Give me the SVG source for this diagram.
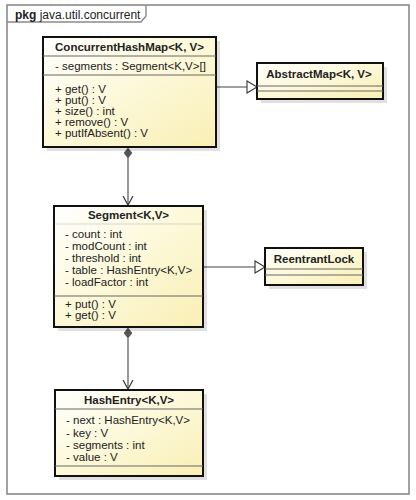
<svg xmlns="http://www.w3.org/2000/svg" width="416" height="500" viewBox="0 0 416 500">
<defs>
<linearGradient id="fill" x1="0" y1="0" x2="1" y2="1">
<stop offset="0" stop-color="#ffffff"/>
<stop offset="0.45" stop-color="#fdf9dc"/>
<stop offset="1" stop-color="#f9efb4"/>
</linearGradient>
<marker id="open" markerWidth="12" markerHeight="12" refX="10" refY="6" orient="auto" markerUnits="userSpaceOnUse">
<path d="M1,1 L10,6 L1,11" fill="none" stroke="#333" stroke-width="1.2"/>
</marker>
<marker id="gen" markerWidth="14" markerHeight="14" refX="11" refY="7" orient="auto" markerUnits="userSpaceOnUse">
<path d="M1,1 L11,7 L1,13 Z" fill="#fff" stroke="#333" stroke-width="1.1"/>
</marker>
</defs>
<style>
text{font-family:"Liberation Sans","DejaVu Sans",Arial,sans-serif;font-size:11.5px;fill:#222}
.t{font-weight:bold;font-size:11.5px;text-anchor:middle}
.box{fill:url(#fill);stroke:#111;stroke-width:2}
.sh{fill:#000;opacity:0.12}
.div{stroke:#666;stroke-width:1}
.conn{fill:none;stroke:#444;stroke-width:1.1}
.dia{fill:#555;stroke:#444;stroke-width:0.6}
</style>
<rect width="416" height="500" fill="#fff"/>
<g id="package">
<rect x="7" y="5" width="402" height="489" fill="none" stroke="#8a8a8a" stroke-width="1.6"/>
<path d="M7,22 L141,22 L146,16 L146,5" fill="none" stroke="#8a8a8a" stroke-width="1.4"/>
<text x="15" y="18.5" style="font-size:12px"><tspan font-weight="bold">pkg</tspan> java.util.concurrent</text>
</g>
<g id="connectors">
<line class="conn" x1="216" y1="87" x2="257" y2="87" marker-end="url(#gen)"/>
<line class="conn" x1="203" y1="267" x2="265" y2="267" marker-end="url(#gen)"/>
<line class="conn" x1="128" y1="158" x2="128" y2="205" marker-end="url(#open)"/>
<polygon class="dia" points="128,148 132,153 128,158 124,153"/>
<line class="conn" x1="128" y1="338" x2="128" y2="389" marker-end="url(#open)"/>
<polygon class="dia" points="128,328 132,333 128,338 124,333"/>
</g>
<g id="ConcurrentHashMap">
<rect class="sh" x="47" y="41" width="173" height="110"/>
<rect class="box" x="43" y="37" width="173" height="110"/>
<line class="div" x1="43" y1="56" x2="216" y2="56"/>
<line class="div" x1="43" y1="75" x2="216" y2="75"/>
<text class="t" x="129.5" y="51">ConcurrentHashMap&lt;K, V&gt;</text>
<text x="55" y="69.5">- segments : Segment&lt;K,V&gt;[]</text>
<text x="55" y="93">+ get() : V</text>
<text x="55" y="104">+ put() : V</text>
<text x="55" y="115">+ size() : int</text>
<text x="55" y="126">+ remove() : V</text>
<text x="55" y="137">+ putIfAbsent() : V</text>
</g>
<g id="AbstractMap">
<rect class="sh" x="261" y="67" width="126" height="36"/>
<rect class="box" x="257" y="63" width="126" height="36"/>
<line class="div" x1="257" y1="86" x2="383" y2="86"/>
<line class="div" x1="257" y1="91" x2="383" y2="91"/>
<text class="t" x="319" y="78">AbstractMap&lt;K, V&gt;</text>
</g>
<g id="Segment">
<rect class="sh" x="58" y="210" width="149" height="121"/>
<rect class="box" x="54" y="206" width="149" height="121"/>
<line class="div" x1="54" y1="224" x2="203" y2="224" stroke-opacity="0.25"/>
<line class="div" x1="54" y1="296" x2="203" y2="296"/>
<text class="t" x="128.5" y="219">Segment&lt;K,V&gt;</text>
<text x="65" y="238">- count : int</text>
<text x="65" y="250">- modCount : int</text>
<text x="65" y="262">- threshold : int</text>
<text x="65" y="274">- table : HashEntry&lt;K,V&gt;</text>
<text x="65" y="286">- loadFactor : int</text>
<text x="65" y="308">+ put() : V</text>
<text x="65" y="319">+ get() : V</text>
</g>
<g id="ReentrantLock">
<rect class="sh" x="269" y="252" width="98" height="37"/>
<rect class="box" x="265" y="248" width="98" height="37"/>
<line class="div" x1="265" y1="269" x2="363" y2="269"/>
<line class="div" x1="265" y1="275" x2="363" y2="275"/>
<text class="t" x="314" y="263">ReentrantLock</text>
</g>
<g id="HashEntry">
<rect class="sh" x="59" y="394" width="148" height="86"/>
<rect class="box" x="55" y="390" width="148" height="86"/>
<line class="div" x1="55" y1="409" x2="203" y2="409"/>
<line class="div" x1="55" y1="466" x2="203" y2="466"/>
<text class="t" x="129" y="404">HashEntry&lt;K,V&gt;</text>
<text x="66" y="424">- next : HashEntry&lt;K,V&gt;</text>
<text x="66" y="437">- key : V</text>
<text x="66" y="449">- segments : int</text>
<text x="66" y="461">- value : V</text>
</g>
</svg>
